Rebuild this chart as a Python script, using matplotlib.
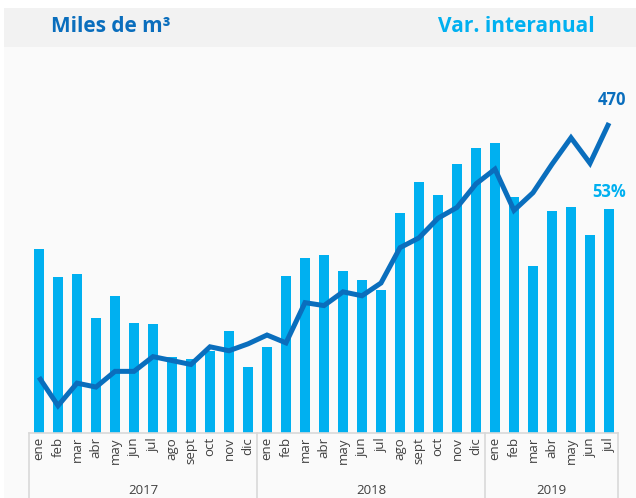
import matplotlib
matplotlib.use("Agg")
import matplotlib.pyplot as plt
from matplotlib.patches import Rectangle
from matplotlib.lines import Line2D

months = ["ene", "feb", "mar", "abr", "may", "jun", "jul", "ago", "sept", "oct", "nov", "dic",
          "ene", "feb", "mar", "abr", "may", "jun", "jul", "ago", "sept", "oct", "nov", "dic",
          "ene", "feb", "mar", "abr", "may", "jun", "jul"]
years = ["2017", "2018", "2019"]
year_counts = [12, 12, 7]

var_interanual = [43.5, 36.8, 37.6, 27.1, 32.3, 26.1, 25.7, 18.1, 17.4, 19.5, 24.2, 15.7,
                  20.4, 37.1, 41.4, 42.1, 38.3, 36.1, 33.8, 52.1, 59.4, 56.3, 63.7, 67.5,
                  68.5, 55.9, 39.5, 52.5, 53.5, 46.8, 53.0]
miles_m3 = [211, 182, 205, 201, 217, 217, 232, 228, 224, 242, 238, 245,
            254, 246, 287, 284, 298, 294, 307, 343, 353, 373, 384, 408,
            423, 381, 399, 428, 455, 429, 470]

BAR = "#00b0f0"
LINE = "#0a6ebd"
GRID = "#d9d9d9"

plt.rcParams['font.family'] = ['Open Sans', 'DejaVu Sans']

W, H = 636, 498
fig = plt.figure(figsize=(W / 100, H / 100), dpi=100)
fig.patch.set_facecolor("white")

def fx(px):
    return px / W

def fy(py):
    return 1 - py / H

# background panels
fig.patches.append(Rectangle((fx(4), fy(498)), fx(636 - 4), fy(47) - fy(498),
                             transform=fig.transFigure, facecolor="#fafafa", edgecolor="none", zorder=-10))
fig.patches.append(Rectangle((fx(4), fy(47)), fx(636 - 4), fy(8) - fy(47),
                             transform=fig.transFigure, facecolor="#f2f2f2", edgecolor="none", zorder=-10))

left, right = fx(29.5), fx(618.5)
bottom, top = fy(433), fy(60)
ax = fig.add_axes([left, bottom, right - left, top - bottom])
ax.set_zorder(2)
ax.set_facecolor("none")
n = len(months)
x = list(range(n))
ax.bar(x, var_interanual, width=0.56, color=BAR, zorder=2)
ax.set_xlim(-0.5, n - 0.5)
ax.set_ylim(0, 53 * (373 / 224))
for s in ax.spines.values():
    s.set_visible(False)
ax.set_xticks([])
ax.set_yticks([])

ax2 = ax.twinx()
ax2.set_zorder(3)
ax2.set_facecolor("none")
ax2.plot(x, miles_m3, color=LINE, lw=3.6, solid_joinstyle="miter", solid_capstyle="butt", zorder=3)
ax2.set_ylim(154.2, 154.2 + 1.01875 * 373)
ax2.set_xlim(-0.5, n - 0.5)
for s in ax2.spines.values():
    s.set_visible(False)
ax2.set_yticks([])

# end labels
ax2.annotate(str(miles_m3[-1]), (x[-1], miles_m3[-1]), xytext=(2, 10), textcoords="offset points",
             ha="center", va="bottom", color=LINE, fontsize=12, fontweight="bold")
ax.annotate(f"{var_interanual[-1]:.0f}%", (x[-1], var_interanual[-1]), xytext=(0, 6), textcoords="offset points",
            ha="center", va="bottom", color=BAR, fontsize=12, fontweight="bold")

# category box
def px_x(i):
    return 29.5 + (i + 0.5) * (589.0 / n)

fig.lines.append(Line2D([fx(29), fx(618)], [fy(433), fy(433)], transform=fig.transFigure, color=GRID, lw=1.2))
bounds = [0]
for c in year_counts:
    bounds.append(bounds[-1] + c)
for b in bounds:
    xb = 29 + b * (589.0 / n)
    fig.lines.append(Line2D([fx(xb), fx(xb)], [fy(433), fy(498)], transform=fig.transFigure, color=GRID, lw=1.2))

for i, m in enumerate(months):
    fig.text(fx(px_x(i)), fy(437), m, rotation=90, ha="center", va="top",
             fontsize=9.5, color="#404040")
start = 0
for yname, c in zip(years, year_counts):
    cx = 29 + (start + c / 2) * (589.0 / n)
    fig.text(fx(cx), fy(490), yname, ha="center", va="center", fontsize=9.5, color="#404040")
    start += c

fig.text(fx(51), fy(27), "Miles de m³", ha="left", va="center", fontsize=15, fontweight="bold", color="#0a6ebd")
fig.text(fx(595), fy(27), "Var. interanual", ha="right", va="center", fontsize=15, fontweight="bold", color=BAR)

fig.savefig("out.png", dpi=100, facecolor="white")
